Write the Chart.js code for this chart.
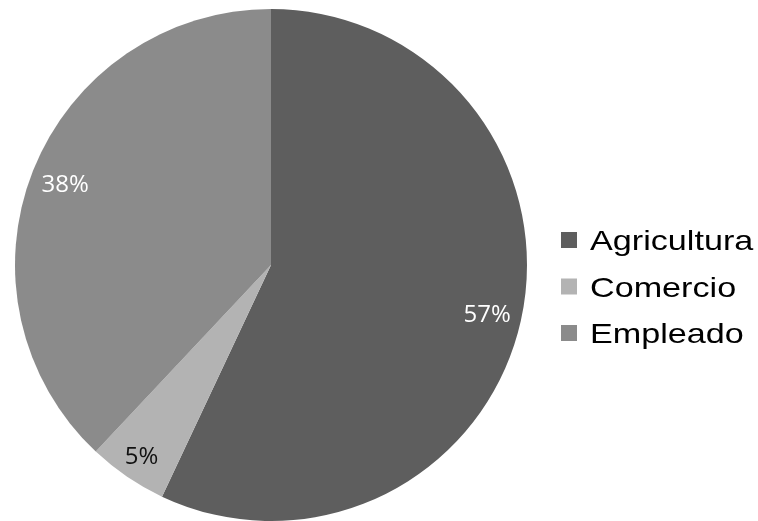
<!DOCTYPE html>
<html>
<head>
<meta charset="utf-8">
<script src="https://cdn.jsdelivr.net/npm/chart.js@4"></script>
<style>
  html, body { margin: 0; padding: 0; background: #fff; overflow: hidden; }
</style>
</head>
<body>
<canvas id="pie" width="758" height="521"></canvas>
<script>
// chart data
const categories = ['Agricultura', 'Comercio', 'Empleado']
const shares = [57, 5, 38]
const pctLabels = ['57%', '5%', '38%']

const sliceColors = ['#5e5e5e', '#b3b3b3', '#8b8b8b']
const labelColors = ['#ffffff', '#111111', '#ffffff']

// percent text inside each slice
const sliceLabels = {
    id: 'sliceLabels',
    afterDatasetsDraw(chart) {
        const ctx = chart.ctx
        const meta = chart.getDatasetMeta(0)
        ctx.save()
        ctx.font = '24px "Open Sans"'
        ctx.textAlign = 'center'
        ctx.textBaseline = 'alphabetic'
        meta.data.forEach((arc, i) => {
            const p = arc.getProps(['x', 'y', 'startAngle', 'endAngle', 'outerRadius'], true)
            const mid = (p.startAngle + p.endAngle) / 2
            const r = p.outerRadius * (shares[i] < 10 ? 0.9 : 0.865)
            ctx.fillStyle = labelColors[i]
            ctx.fillText(pctLabels[i], p.x + Math.cos(mid) * r, p.y + Math.sin(mid) * r + 8.5)
        })
        ctx.restore()
    }
}

// legend on the right, text is a bit stretched like the original
const sideLegend = {
    id: 'sideLegend',
    afterDraw(chart) {
        const ctx = chart.ctx
        ctx.save()
        ctx.font = '28px "Liberation Sans", Arial, sans-serif'
        ctx.textBaseline = 'alphabetic'
        categories.forEach((name, i) => {
            const base = 250 + i * 46.5
            ctx.fillStyle = sliceColors[i]
            ctx.fillRect(561, base - 18, 16, 16)
            ctx.save()
            ctx.translate(590, base)
            ctx.scale(1.22, 1)
            ctx.fillStyle = '#000'
            ctx.fillText(name, 0, 0)
            ctx.restore()
        })
        ctx.restore()
    }
}

new Chart(document.getElementById('pie'), {
    type: 'pie',
    data: {
        labels: categories,
        datasets: [{
            data: shares,
            backgroundColor: sliceColors,
            borderWidth: 0,
            offset: 0,
            hoverOffset: 0
        }]
    },
    options: {
        responsive: false,
        animation: false,
        devicePixelRatio: 1,
        layout: {
            padding: { left: 15, right: 231, top: 9, bottom: 0 }
        },
        plugins: {
            legend: { display: false },
            tooltip: { enabled: false }
        }
    },
    plugins: [sliceLabels, sideLegend]
})
</script>
</body>
</html>
